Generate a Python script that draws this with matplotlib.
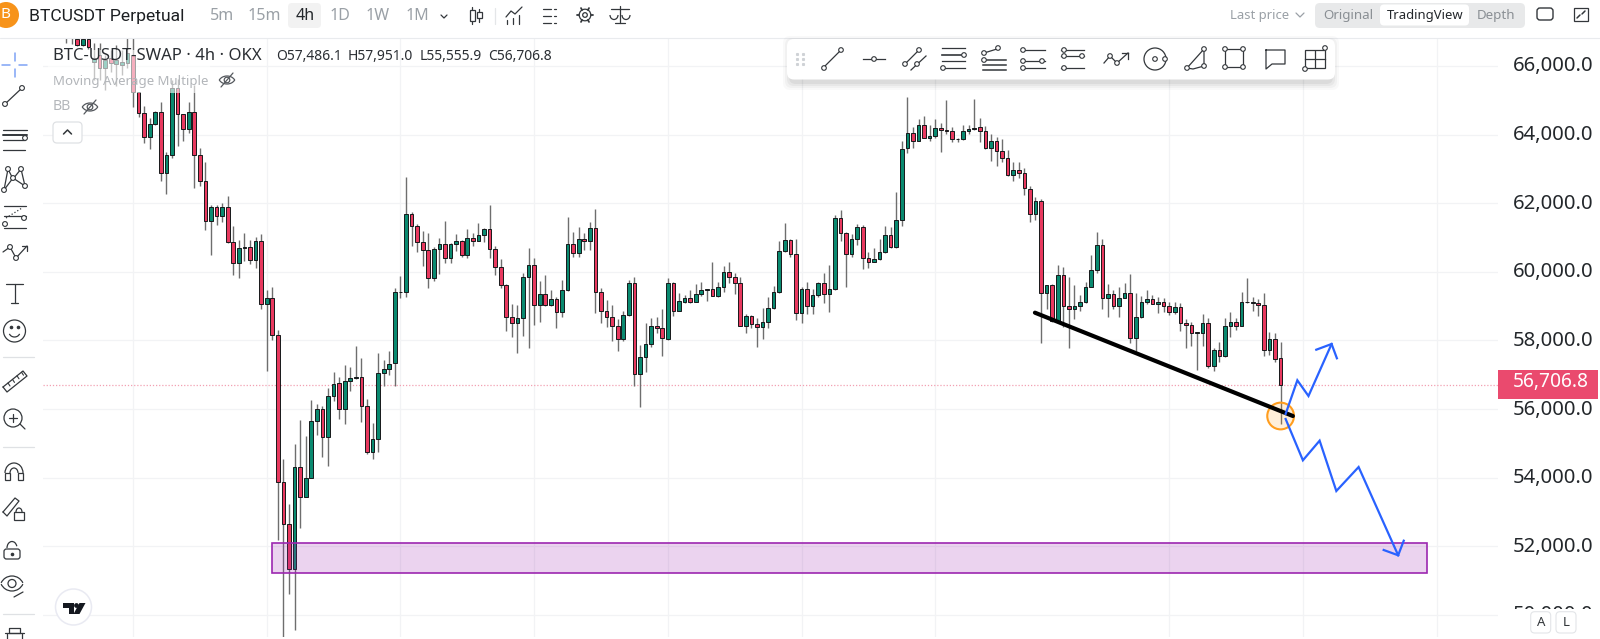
import numpy as np
import matplotlib
matplotlib.use("Agg")
import matplotlib.pyplot as plt
from matplotlib.patches import Rectangle, FancyBboxPatch, Circle, Polygon, Arc
from matplotlib.transforms import ScaledTranslation

plt.rcParams['font.family'] = ['Noto Sans', 'DejaVu Sans']

FIRST_BAR = -12
dirs = list(
    "rgrgrgrgrgggr"
    "rrggrggrrg"  # 1-10
    "rrrgrgrrgg"  # 11-20
    "rgrgrrrrgr"  # 21-30
    "gggrggrggg"  # 31-40
    "rrgggggggr"  # 41-50
    "rrrggrggrg"  # 51-60
    "rggrrrrrgg"  # 61-70
    "grgrgrggrg"  # 71-80
    "rgrrrrrggr"  # 81-90
    "gggrrgrggr"  # 91-100
    "gggrggrrrg"  # 101-110
    "rrgggggrrg"  # 111-120
    "rggrggrrgg"  # 121-130
    "rrgggrgggr"  # 131-140
    "grggrrrggg"  # 141-150
    "grrgrrrgrr"  # 151-160
    "rgrgrgrrgg"  # 161-170
    "gggrgrggrg"  # 171-180
    "ggrgrrgrrr"  # 181-190
    "ggrgrggrgg"  # 191-200
    "grrgrr"      # 201-206
)

body_hi = [67300,67300,66787,66787,66787,66233,66321,66175,66233,66175,66117,66379,66320,
 65252,64620,64309,64669,64669,63406,65349,65349,64591,64669,
 64669,63406,62648,61880,61880,61880,61880,60870,60685,60714,
 60714,60889,60889,59227,59227,58158,53863,52639,54301,54301,
 53990,55651,55991,55991,56380,56720,56749,56827,56895,56944,
 56944,56088,55127,57041,57167,57313,59412,59421,61676,61676,
 61336,60869,60646,60665,60811,60811,60811,60908,60908,60986,
 60986,61063,61238,61238,60665,60131,59606,58692,58644,59839,
 60199,60199,59344,59344,59217,59217,59460,60801,60801,60947,
 60947,61287,61287,59412,58867,58673,58430,58731,59664,59664,
 57517,57886,58430,58430,58372,59664,59664,59140,59246,59246,
 59363,59460,59489,59489,59557,60004,60004,59849,59684,58722,
 58722,58479,58527,58935,59411,60616,60918,60918,60519,59489,
 59489,59314,59684,59684,59489,61559,61559,61141,60966,61306,
 61306,60393,60364,60568,61063,61063,61510,63580,64037,64037,
 64289,64289,63969,64192,64192,64144,64095,63881,64115,64163,
 64202,64212,64115,63823,63823,63531,63308,62958,62958,62890,
 62415,62075,62075,59606,59606,59898,59898,59004,59014,59111,
 59558,60053,60772,60772,59344,59344,59247,59383,59383,58674,
 59121,59208,59208,59121,59111,58994,58965,58965,58499,58450,
 58236,58499,58499,57721,57721,58411,58528,58528,59121,59121,
 59111,59082,59043,58032,58032,57486.1]
body_lo = [67000,66950,66612,66612,66554,66117,65942,65942,66088,66058,66029,66088,65252,
 64620,63921,63921,64300,62891,62891,63406,64591,64154,64154,
 63406,62648,61482,61482,61637,61637,60870,60248,60248,60705,
 60345,60345,59072,59072,58158,53863,52639,51327,51327,53446,
 53446,53990,55651,55175,55175,56380,55991,55991,56827,56895,
 56088,54757,54738,55127,57041,57167,57332,59402,59402,61345,
 60869,60646,59810,59810,60665,60412,60412,60811,60490,60490,
 60889,60889,61063,60665,60131,59606,58692,58498,58498,58644,
 59839,59042,59042,59023,59023,58819,58819,59460,60558,60558,
 60889,60889,59412,58867,58673,58430,58051,58051,58731,57031,
 57031,57517,57886,58372,58061,58032,58867,58867,59130,59110,
 59110,59363,59480,59305,59305,59557,59849,59684,58430,58430,
 58479,58382,58382,58527,58935,59411,60616,60519,58809,58809,
 59003,59003,59314,59344,59344,59489,61141,60519,60519,60966,
 60393,60296,60296,60364,60568,60714,60714,61510,63600,63823,
 63823,63901,63901,63969,64144,64095,63872,63872,63872,64115,
 64163,64115,63619,63619,63531,63308,62812,62812,62890,62434,
 61686,61686,59393,59393,58576,58576,59004,58907,58907,59014,
 59111,59558,60053,59247,59247,59014,59014,59247,58081,58081,
 58674,59121,59072,59072,58994,58839,58839,58499,58450,58227,
 58227,58207,57265,57265,57546,57546,58411,58431,58431,59111,
 59101,59043,57712,57712,57469,56706.8]
highs = [67400,67400,67000,66900,66950,66670,66670,66321,66467,66612,66467,66816,66850,
 65252,64844,64475,64698,64941,63483,65592,65611,64601,64960,
 65446,63600,63192,61948,61958,61997,62220,61336,60928,61122,
 60928,61006,61103,59470,59567,58304,54534,53232,54981,55680,
 55214,56263,56147,56088,56604,57070,56924,57284,57216,57847,
 57478,56293,55583,57624,57429,57692,59518,59888,62754,61734,
 61384,61190,61122,60733,60995,61481,60850,61093,60927,61238,
 61141,61413,61267,61948,60753,60364,59635,59062,59033,59975,
 60694,60393,59732,59907,59470,59276,59761,61588,61151,61297,
 61122,61462,61831,59518,59178,59033,58625,58867,59761,59859,
 57867,58498,58663,58692,58916,59810,59693,59373,59324,59470,
 59645,59713,59489,60276,59713,60179,60276,59956,59858,58760,
 58741,58644,58935,59256,59586,60898,61413,60957,60947,59567,
 59713,59499,59713,59956,60198,61656,61802,61170,61092,61384,
 61365,60568,60684,60947,61345,61316,62336,63813,65086,64212,
 64445,64542,64280,64445,64348,65008,64212,63891,64280,64280,
 65038,64474,64251,64008,63940,63872,63551,63211,63191,63027,
 62502,62172,62113,59626,59645,60199,60151,59840,59616,59325,
 59713,60481,61171,60947,59645,59470,59568,59665,59937,59373,
 59295,59461,59325,59257,59247,59130,59111,59082,58615,58528,
 58246,58771,58644,57770,57964,58644,58819,58644,59422,59810,
 59257,59208,59373,58236,58227,57951.0]
lows = [66670,66641,66583,66583,66496,65592,65592,65300,65825,65417,65738,65942,64815,
 64504,63746,63571,64280,62657,62269,63328,63668,63823,64037,
 62434,62512,61219,60490,61365,61462,60831,59908,59830,60316,
 60228,60121,58907,57118,58013,52182,49300,50608,49560,52522,
 53426,53980,55243,54592,54349,56234,55700,55554,56536,56885,
 55632,54680,54544,54738,56681,56992,56681,59246,59276,60753,
 60587,60170,59538,59732,59927,60267,60247,60616,60422,60412,
 60753,60889,60879,60412,59907,59518,58275,58109,57624,58139,
 57769,58450,58547,59003,59003,58372,58692,59441,60422,60442,
 60636,60636,58809,58518,58401,57993,57701,57983,58722,56671,
 56069,57089,57818,58207,57546,58012,58722,58858,59081,59081,
 59110,59305,59149,59295,59256,59421,59684,59353,58420,58207,
 58372,57818,58032,58372,58906,59373,60587,60442,58595,58498,
 58770,58770,59275,59100,58838,59470,60908,59567,60442,60782,
 60082,60121,60296,60344,60539,60704,60704,61335,63473,63619,
 63823,63891,63813,63891,63502,64017,63794,63794,63842,64008,
 64134,63794,63570,63230,63085,63211,62793,62657,62725,62240,
 61462,61511,57916,58917,58547,58547,58401,57789,58625,58868,
 59082,59548,59976,58907,58693,58907,58674,59237,57916,57692,
 58664,59062,59062,58810,58839,58742,58780,58275,57770,57838,
 57138,57848,57187,57119,57362,57527,58110,58304,58421,59082,
 58868,58712,57556,57576,57381,55555.9]

price_ticks = [50000, 52000, 54000, 56000, 58000, 60000, 62000, 64000, 66000]
grid_bars = [0, 24, 48, 72, 96, 120, 144, 186, 210, 234]
last_price = 56706.8
zone_bars = [25.0, 232.3]
zone_prices = [51221, 52095]
trend_bars = [161.9, 208.2]
trend_prices = [58809, 55797]
touch_bar, touch_price = 206, 55797
up_bars = [206.9, 209.0, 211.0, 215.15]
up_prices = [55856, 56838, 56380, 57896]
up_head_bars = [212.4, 215.15, 216.1]
up_head_prices = [57730, 57896, 57480]
down_bars = [206.9, 210.0, 213.0, 216.0, 220.0, 227.1]
down_prices = [55710, 54506, 55078, 53611, 54310, 51737]
down_head_bars = [224.5, 227.1, 228.1]
down_head_prices = [51891, 51737, 52162]

GREEN, RED = "#0a8a70", "#e8395f"
n = len(highs)
assert len(lows) == n and len(body_hi) == n and len(body_lo) == n and len(dirs) == n
bars = np.arange(n) + FIRST_BAR
body_hi, body_lo = np.array(body_hi), np.array(body_lo)

fig = plt.figure(figsize=(16, 6.39), dpi=100, facecolor="white")
W, H = 1600, 639
ax = fig.add_axes([43 / W, 1 - 637 / H, (1498 - 43) / W, (637 - 38) / H])
ax.set_xlim(-16.155, 245.02)
ax.set_ylim(49355, 66816)
for s in ax.spines.values():
    s.set_visible(False)
ax.set_xticks(grid_bars)
ax.set_yticks(price_ticks)
ax.set_yticklabels([f"{p:,.1f}" for p in price_ticks])
ax.xaxis.set_ticklabels([])
ax.yaxis.tick_right()
ax.tick_params(axis="both", length=0)
ax.tick_params(axis="y", pad=10.8, labelsize=14.6, labelcolor="#23272b")
for lab in ax.get_yticklabels():
    lab.set_transform(lab.get_transform() + ScaledTranslation(0, 2 / 100, fig.dpi_scale_trans))
ax.grid(True, color="#f2f3f5", lw=0.9)
ax.set_axisbelow(True)

ax.axhline(last_price, color="#f2a0b2", lw=0.9, ls=(0, (1, 1.5)), zorder=1)
ax.vlines(bars, lows, highs, color="#6e6e6e", lw=1.0, zorder=2)
colors = [GREEN if d == "g" else RED for d in dirs]
ax.bar(bars, body_hi - body_lo, bottom=body_lo, width=0.66, color=colors,
       edgecolor="#16181a", linewidth=0.7, zorder=3)
ax.add_patch(Rectangle((zone_bars[0], zone_prices[0]), zone_bars[1] - zone_bars[0],
                       zone_prices[1] - zone_prices[0], facecolor="#9c27b0", alpha=0.2,
                       edgecolor="none", zorder=4))
ax.add_patch(Rectangle((zone_bars[0], zone_prices[0]), zone_bars[1] - zone_bars[0],
                       zone_prices[1] - zone_prices[0], facecolor="none",
                       edgecolor="#9c27b0", lw=1.2, zorder=4))
ax.scatter([touch_bar], [touch_price], s=370, facecolor="#ff9800", alpha=0.15, edgecolor="none", zorder=5)
ax.scatter([touch_bar], [touch_price], s=370, facecolor="none", edgecolor="#ff9d1e", lw=1.5, zorder=5)
ax.plot(trend_bars, trend_prices, color="black", lw=3.0, solid_capstyle="round", zorder=6)
for xs, ys in ((up_bars, up_prices), (up_head_bars, up_head_prices),
               (down_bars, down_prices), (down_head_bars, down_head_prices)):
    ax.plot(xs, ys, color="#2962ff", lw=1.6, solid_joinstyle="miter", zorder=7)

# interface layer, laid out in figure pixels
ui = fig.add_axes([0, 0, 1, 1], zorder=10)
ui.set_xlim(0, W)
ui.set_ylim(H, 0)
ui.axis("off")
ui.patch.set_alpha(0)
ICON = "#33373b"
GRAY = "#9aa0a6"


def seg(xs, ys, lw=0.9, c=ICON, **kw):
    ui.plot(xs, ys, color=c, lw=lw, solid_capstyle="round", **kw)


def node(x, y, r=2.4, c=ICON):
    ui.add_patch(Circle((x, y), r, facecolor="white", edgecolor=c, lw=0.8, zorder=5))


def box(x0, y0, x1, y1, pad=3, fc="white", ec="none", lw=0.8, z=1, alpha=None):
    ui.add_patch(FancyBboxPatch((x0 + pad, y0 + pad), x1 - x0 - 2 * pad, y1 - y0 - 2 * pad,
                                boxstyle=f"round,pad={pad},rounding_size={pad + 1}",
                                fc=fc, ec=ec, lw=lw, zorder=z, alpha=alpha))


def txt(x, y, s, size=10, c=ICON, ha="left", weight="normal", z=6, family=None):
    ui.text(x, y, s, fontsize=size, color=c, ha=ha, va="center", weight=weight, zorder=z,
            family=family if family else ['Noto Sans', 'DejaVu Sans'])


# masks around the plot
ui.add_patch(Rectangle((0, 0), W, 38, fc="white", ec="none", zorder=0))
ui.add_patch(Rectangle((1498, 609), 102, 30, fc="white", ec="none", zorder=0))
seg([0, W], [38, 38], lw=0.8, c="#e9ebee")

# top bar
ui.add_patch(Circle((6, 15), 13, fc="#f7931a", ec="none", zorder=2))
txt(6, 15, "B", 11, "white", "center", "bold")
txt(29, 16, "BTCUSDT Perpetual", 12.6, "#1c1f22", family="Roboto")
box(288, 3, 321, 28, fc="#f2f2f2")
for x, s in ((222, "5m"), (264, "15m"), (305, "4h"), (340, "1D"), (378, "1W"), (417, "1M")):
    txt(x, 16, s, 11.5, "#23272b" if s == "4h" else GRAY, "center")
seg([441, 444, 447], [15, 18, 15], lw=0.9)
seg([472, 472], [7, 24]); seg([479, 479], [9, 22])
ui.add_patch(Rectangle((469.5, 10), 5, 11, fc="white", ec=ICON, lw=0.9, zorder=3))
ui.add_patch(Rectangle((476.5, 12), 5, 6, fc="white", ec=ICON, lw=0.9, zorder=3))
seg([495, 495], [8, 24], c="#e4e6e8")
seg([506, 511, 515, 522], [17, 11, 14, 7]); seg([507, 507], [20, 24]); seg([513, 513], [18, 24]); seg([519, 519], [15, 24])
for y, x1 in ((9, 556), (16, 556), (23, 556)):
    seg([543, 551], [y, y]); seg([554, x1], [y, y])
ui.add_patch(Circle((585, 15), 5.8, fc="none", ec=ICON, lw=0.9))
ui.add_patch(Circle((585, 15), 2.3, fc="none", ec=ICON, lw=0.9))
for a in np.arange(0, 360, 60):
    seg([585 + 5.8 * np.cos(np.radians(a)), 585 + 8 * np.cos(np.radians(a))],
        [15 + 5.8 * np.sin(np.radians(a)), 15 + 8 * np.sin(np.radians(a))], lw=1.3)
seg([620, 620], [6, 23]); seg([611, 629], [9, 9]); seg([615, 625], [23, 23])
ui.add_patch(Arc((614, 15), 8, 9, theta1=0, theta2=180, ec=ICON, lw=0.9))
ui.add_patch(Arc((626, 15), 8, 9, theta1=0, theta2=180, ec=ICON, lw=0.9))

txt(1230, 15, "Last price", 9.4, GRAY)
seg([1296, 1300, 1304], [13, 17, 13], c=GRAY)
box(1315, 3, 1525, 28, fc="#e8e9ea", pad=4)
box(1380, 4.5, 1469, 25.5, fc="white", pad=3, z=2)
txt(1348, 16, "Original", 9.6, "#8a8f94", "center")
txt(1425, 16, "TradingView", 9.4, "#23272b", "center")
txt(1496, 16, "Depth", 9.6, "#8a8f94", "center")
box(1537, 8, 1553, 20, fc="white", ec=ICON, lw=1.0, pad=2)
ui.add_patch(Rectangle((1574, 8), 14, 13, fc="white", ec=ICON, lw=0.9))
seg([1577, 1580], [18, 15], lw=1.1); seg([1585, 1582], [11, 14], lw=1.1)

# legend with its soft backdrop
ui.add_patch(Rectangle((48, 50), 162, 43, fc="white", ec="none", alpha=0.6, zorder=0.5))
txt(53, 56.5, "BTC-USDT-SWAP · 4h · OKX", 12.0, "#2a2e33")
for x, s in ((276.6, "O57,486.1"), (347.8, "H57,951.0"), (419.5, "L55,555.9"), (488.5, "C56,706.8")):
    txt(x, 57, s, 10, "#2a2e33")
txt(53, 82, "Moving Average Multiple", 9.5, "#b3b6ba")
txt(53, 107, "BB", 10.2, "#b3b6ba")


def eye_off(x, y, c="#55595e"):
    ui.add_patch(Arc((x, y + 3), 17, 14, theta1=200, theta2=340, ec=c, lw=0.9))
    ui.add_patch(Arc((x, y - 3), 17, 14, theta1=20, theta2=160, ec=c, lw=0.9))
    ui.add_patch(Circle((x, y), 2.8, fc="none", ec=c, lw=0.9))
    seg([x - 6, x + 6], [y + 7, y - 7], c=c)


eye_off(227, 80)
eye_off(90, 107)
box(53, 122, 82, 143, fc="white", ec="#dfe1e4", lw=0.9)
seg([63.5, 67.5, 71.5], [134, 130, 134], lw=1.1)

# left toolbar
LX = 14.5
seg([LX, LX], [53, 61], c="#7fa3f5", lw=1.1); seg([LX, LX], [69, 77], c="#7fa3f5", lw=1.1)
seg([2, 10], [65, 65], c="#7fa3f5", lw=1.1); seg([19, 27], [65, 65], c="#7fa3f5", lw=1.1)
seg([5, 22], [104, 88]); node(5, 104); node(22, 88)
for y, xe in ((130, 27), (135, 27), (140, 25), (150, 25)):
    seg([3, xe], [y, y], lw=1.4 if y == 135 else 0.9)
node(25, 138)
seg([4, 8, 13, 21, 25], [190, 169, 179, 169, 186]); seg([4, 13, 25], [190, 178, 186])
node(8, 169); node(21, 169); node(13, 178); node(25, 186); node(4, 190)
for y, xe in ((206, 26), (216, 26), (228, 26)):
    seg([4, xe], [y, y])
seg([6, 22], [218, 208], ls=":")
node(5, 224); node(24, 218)
seg([3, 10, 16, 27], [252, 247, 258, 246]); node(10, 247); node(16, 258)
seg([22, 27, 27], [246, 246, 251])
seg([14.5, 14.5], [284, 303]); seg([6, 23], [284, 284]); seg([11, 18], [303, 303])
ui.add_patch(Circle((14.5, 331), 11, fc="none", ec=ICON, lw=0.9))
ui.add_patch(Arc((14.5, 332), 11, 10, theta1=20, theta2=160, ec=ICON, lw=0.9))
ui.plot([11, 18], [327, 327], ls="", marker="o", ms=1.6, color=ICON)
seg([3, 34], [357, 357], c="#dfe1e4")
seg([3, 23, 27, 7, 3], [387, 371, 376, 392, 387])
for i in np.arange(4):
    seg([8 + 4.5 * i, 10 + 4.5 * i], [383 - 3.6 * i, 386 - 3.6 * i], lw=0.8)
ui.add_patch(Circle((13, 418), 9, fc="none", ec=ICON, lw=0.9))
seg([20, 25], [424, 429]); seg([9, 17], [418, 418]); seg([13, 13], [414, 422])
seg([3, 34], [447, 447], c="#dfe1e4")
ui.add_patch(Arc((14, 473), 18, 20, theta1=180, theta2=360, ec=ICON, lw=0.9))
ui.add_patch(Arc((14, 473), 8, 10, theta1=180, theta2=360, ec=ICON, lw=0.9))
ui.add_patch(Rectangle((5, 473), 5, 7, fc="none", ec=ICON, lw=0.9))
ui.add_patch(Rectangle((18, 473), 5, 7, fc="none", ec=ICON, lw=0.9))
seg([3, 15, 19, 7, 3], [512, 498, 501, 516, 512])
ui.add_patch(Rectangle((14, 512), 10, 8, fc="white", ec=ICON, lw=0.9, zorder=3))
ui.add_patch(Arc((19, 512), 6, 8, theta1=180, theta2=360, ec=ICON, lw=0.9))
box(4, 549, 20, 559, pad=1.5, fc="white", ec=ICON, lw=0.9)
ui.add_patch(Arc((12, 548), 10, 13, theta1=180, theta2=340, ec=ICON, lw=0.9))
ui.plot([12], [554], marker="o", ms=1.6, color=ICON)
ui.add_patch(Arc((12, 588), 24, 24, theta1=205, theta2=335, ec=ICON, lw=0.9))
ui.add_patch(Arc((12, 579), 24, 24, theta1=25, theta2=155, ec=ICON, lw=0.9))
ui.add_patch(Circle((12, 583.5), 4, fc="none", ec=ICON, lw=0.9))
seg([14, 23], [597, 592])
seg([3, 34], [614, 614], c="#dfe1e4")
seg([5, 24], [633, 633]); seg([9, 20, 20, 9, 9], [633, 633, 628, 628, 633])
seg([7, 7], [633, 639]); seg([22, 22], [633, 639])

# TradingView badge
ui.add_patch(Circle((73.5, 607), 18, fc="white", ec="#e9eaf2", lw=1.1, zorder=3))
ui.add_patch(Polygon([(63, 603), (74, 603), (74, 614), (69, 614), (69, 608), (63, 608)],
                     fc="#14181f", ec="none", zorder=4))
ui.add_patch(Circle((76.5, 605.5), 2.4, fc="#14181f", ec="none", zorder=4))
ui.add_patch(Polygon([(79.5, 603), (85.5, 603), (79.5, 614), (73.5, 614)], fc="#14181f", ec="none", zorder=4))

# drawing toolbar
for grow, a in ((6, 0.025), (4, 0.03), (2, 0.04), (0, 0.05)):
    ui.add_patch(FancyBboxPatch((793 - grow, 46 - grow), 536 + 2 * grow, 34 + 2 * grow,
                                boxstyle="round,pad=4,rounding_size=7",
                                fc="#000000", ec="none", alpha=a, zorder=2))
ui.add_patch(FancyBboxPatch((793, 45), 536, 28.5, boxstyle="round,pad=6,rounding_size=7",
                            fc="white", ec="none", zorder=3))
ui.plot([797, 803, 797, 803, 797, 803], [54, 54, 59, 59, 64, 64], ls="", marker="s", ms=1.2, color="#cfd2d6", zorder=4)


def top(x0, x1, ys, **kw):
    ui.plot([x0, x1], ys, color=ICON, lw=kw.get("lw", 0.9), zorder=4)


def tnode(x, y):
    ui.add_patch(Circle((x, y), 2.3, fc="white", ec=ICON, lw=0.8, zorder=5))


top(824, 841, [67, 50]); tnode(824, 68); tnode(841, 50)
top(863, 885, [59, 59]); tnode(874, 59)
top(904, 920, [65, 49]); top(911, 926, [70, 56]); tnode(905, 64); tnode(919, 50); tnode(917, 64)
for y, x1, lw in ((48, 965, 0.9), (55, 965, 1.2), (61, 965, 0.9), (68, 965, 0.9)):
    top(942, x1, [y, y], lw=lw)
tnode(964, 55); tnode(943, 68)
for y in (60, 65, 70):
    top(983, 1006, [y, y], lw=1.1)
top(984, 997, [53, 49]); tnode(984, 53); tnode(998, 48); tnode(984, 60)
top(1022, 1045, [50, 50]); top(1022, 1045, [61, 61]); top(1022, 1045, [68, 68])
tnode(1023, 50); tnode(1042, 61); tnode(1023, 61); tnode(1023, 68)
top(1061, 1084, [50, 50]); top(1061, 1084, [56, 56]); top(1061, 1084, [68, 68])
tnode(1064, 50); tnode(1064, 56); tnode(1082, 56); tnode(1064, 68)
ui.plot([1104, 1110, 1117, 1128], [63, 56, 63, 53], color=ICON, lw=0.9, zorder=4)
tnode(1110, 56); tnode(1117, 63); top(1122, 1128, [53, 53]); top(1128, 1128, [53, 59])
ui.add_patch(Circle((1155, 59), 11, fc="white", ec=ICON, lw=0.9, zorder=4))
tnode(1155, 59); tnode(1165, 59)
ui.plot([1187, 1204, 1204, 1193, 1187], [68, 49, 66, 69, 68], color=ICON, lw=0.9, zorder=4)
tnode(1187, 68); tnode(1204, 49); tnode(1204, 66)
ui.add_patch(Rectangle((1225, 49), 18, 18, fc="none", ec=ICON, lw=0.9, zorder=4))
for x, y in ((1225, 49), (1243, 49), (1225, 67), (1243, 67)):
    tnode(x, y)
ui.plot([1266, 1285, 1285, 1272, 1266, 1266], [50, 50, 64, 64, 69, 50], color=ICON, lw=0.9, zorder=4)
ui.add_patch(Rectangle((1305, 50), 20, 18, fc="none", ec=ICON, lw=0.9, zorder=4))
top(1305, 1325, [59, 59]); top(1315, 1315, [51, 67]); tnode(1325, 48); tnode(1305, 69)

# last-price tag and scale buttons
ui.add_patch(Rectangle((1498, 370), 100, 29, fc="#ea4a6e", ec="none", zorder=3))
txt(1512.7, 382.5, "56,706.8", 13.8, "white", weight="bold")
box(1530.7, 611.7, 1550.7, 633, fc="white", ec="#e3e5e8", pad=3)
box(1556, 611.7, 1576, 633, fc="white", ec="#e3e5e8", pad=3)
txt(1540.7, 622, "A", 9.5, "#33373b", "center")
txt(1566, 622, "L", 9.5, "#33373b", "center")

fig.savefig("out.png", dpi=100, facecolor="white")
